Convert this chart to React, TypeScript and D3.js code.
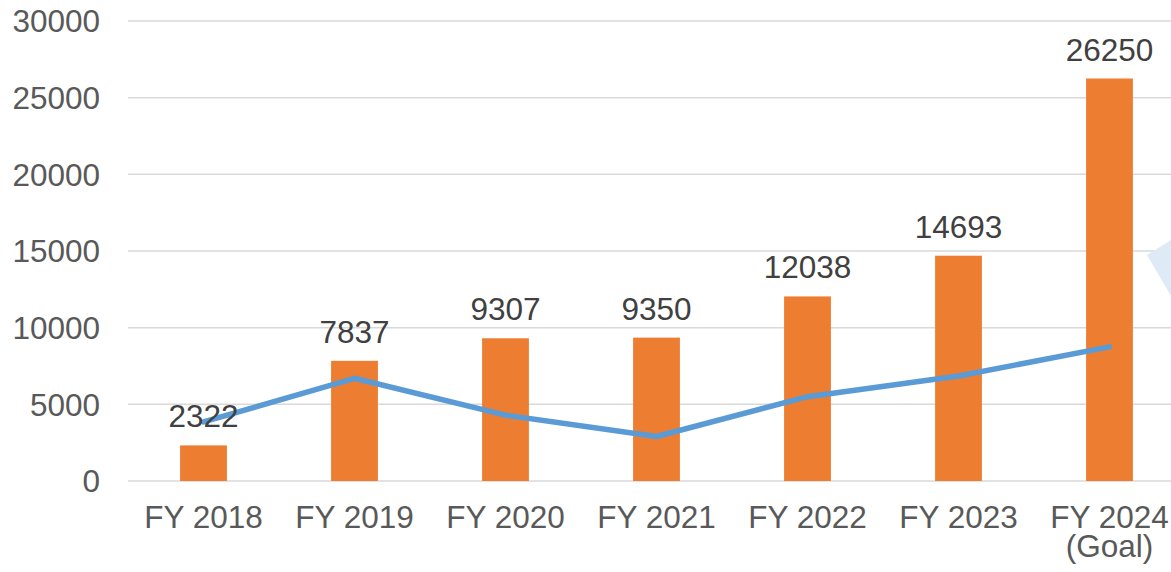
import React from 'react';
import * as d3 from 'd3';

const categories = ['FY 2018', 'FY 2019', 'FY 2020', 'FY 2021', 'FY 2022', 'FY 2023', 'FY 2024'];
const categoryNotes = ['', '', '', '', '', '', '(Goal)'];
const barValues = [2322, 7837, 9307, 9350, 12038, 14693, 26250];
const lineValues = [3850, 6700, 4300, 2900, 5500, 6850, 8750];
const yTicks = [0, 5000, 10000, 15000, 20000, 25000, 30000];

const W = 1171;
const H = 572;
const margin = { top: 21, left: 128, bottom: 91 };
const plotRight = 1185; // plot runs past the picture edge, like the source

const FONT = '"Liberation Sans", Arial, sans-serif';
const FS = 31.5;

const App = () => {
  const x = d3.scaleBand()
    .domain(categories)
    .range([margin.left, plotRight])
    .paddingInner(0.69)
    .paddingOuter(0.345);

  const y = d3.scaleLinear()
    .domain([0, 30000])
    .range([H - margin.bottom, margin.top]);

  const cx = (c: string) => (x(c) as number) + x.bandwidth() / 2;

  const line = d3.line<number>()
    .x((_, i) => cx(categories[i]))
    .y(d => y(d));

  return (
    <svg
      width={W}
      height={H}
      style={{ position: 'absolute', left: 0, top: 0, display: 'block', background: '#fff' }}
      fontFamily={FONT}
    >
      {/* grid */}
      {yTicks.map(t => (
        <line key={t} x1={margin.left} x2={W} y1={y(t)} y2={y(t)} stroke="#d9d9d9" strokeWidth={1.5} />
      ))}
      {yTicks.map(t => (
        <text key={'l' + t} x={100} y={y(t)} dy="0.36em" textAnchor="end" fontSize={FS} fill="#595959">
          {t}
        </text>
      ))}

      {/* bars */}
      {barValues.map((v, i) => (
        <rect
          key={categories[i]}
          x={x(categories[i])}
          y={y(v)}
          width={x.bandwidth()}
          height={y(0) - y(v)}
          fill="#ed7d31"
        />
      ))}

      {/* line */}
      <path
        d={line(lineValues) || ''}
        fill="none"
        stroke="#5b9bd5"
        strokeWidth={5.5}
        strokeLinecap="round"
        strokeLinejoin="round"
      />

      {/* data labels */}
      {barValues.map((v, i) => (
        <text key={'v' + i} x={cx(categories[i])} y={y(v) - 18} textAnchor="middle" fontSize={FS} fill="#404040">
          {v}
        </text>
      ))}

      {/* category labels */}
      {categories.map((c, i) => (
        <text key={'c' + c} x={cx(c)} y={528} textAnchor="middle" fontSize={FS} fill="#595959">
          <tspan x={cx(c)}>{c}</tspan>
          {categoryNotes[i] && <tspan x={cx(c)} dy={29}>{categoryNotes[i]}</tspan>}
        </text>
      ))}

      {/* edge of a callout shape next to the chart */}
      <polygon points="1147,255 1171,240 1171,296" fill="#deebf7" />
    </svg>
  );
};

export default App;
